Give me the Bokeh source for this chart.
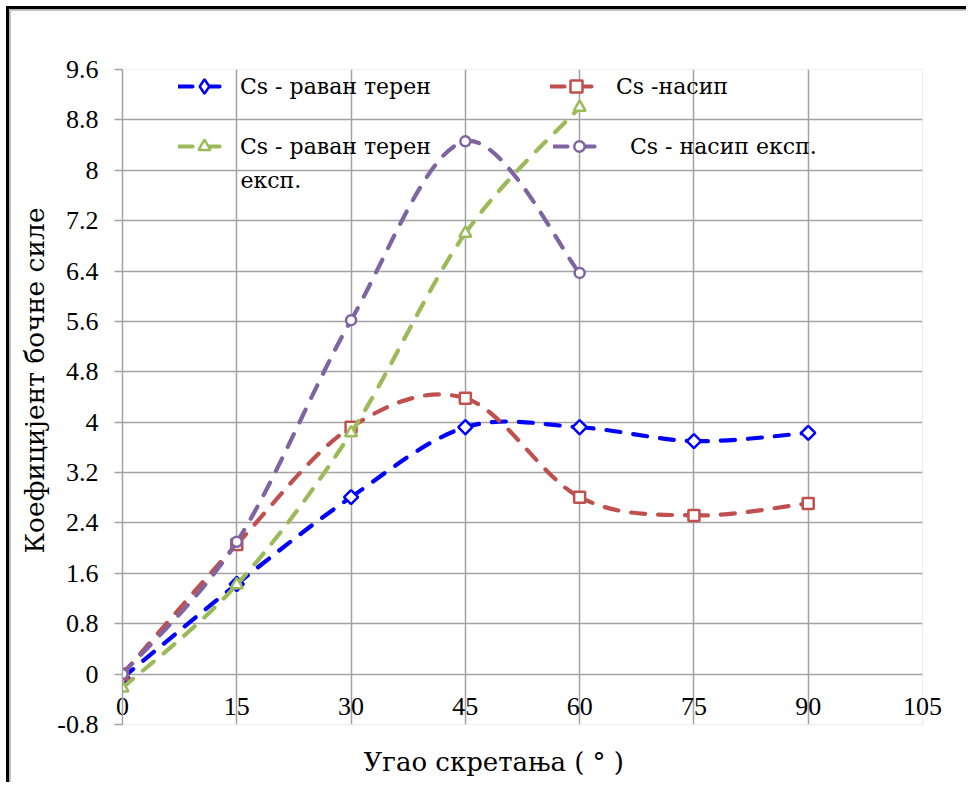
import numpy as np
from bokeh.plotting import figure
from bokeh.models import (Range1d, FixedTicker, Legend, LegendItem, Label, Title,
                          LinearAxis)
from bokeh.embed import file_html
from bokeh.resources import INLINE

# ---------------- data ----------------
angles = [0, 15, 30, 45, 60, 75, 90]
cs_flat = [-0.06, 1.43, 2.81, 3.92, 3.92, 3.70, 3.83]          # Cs - раван терен
cs_embank = [0.0, 2.06, 3.92, 4.38, 2.81, 2.52, 2.71]          # Cs -насип
angles_exp = [0, 15, 30, 45, 60]
cs_flat_exp = [-0.22, 1.42, 3.83, 7.00, 9.00]                  # Cs - раван терен експ.
cs_embank_exp = [0.0, 2.10, 5.62, 8.46, 6.37]                  # Cs - насип експ.

x_ticks = [0, 15, 30, 45, 60, 75, 90, 105]
x_tick_labels = ["0", "15", "30", "45", "60", "75", "90", "105"]
y_ticks = [-0.8, 0, 0.8, 1.6, 2.4, 3.2, 4, 4.8, 5.6, 6.4, 7.2, 8, 8.8, 9.6]
y_tick_labels = ["-0.8", "0", "0.8", "1.6", "2.4", "3.2", "4", "4.8", "5.6",
                 "6.4", "7.2", "8", "8.8", "9.6"]

x_title = "Угао скретања ( ° )"
y_title = "Коефицијент бочне силе"
names = ["Cs - раван терен", "Cs -насип", "Cs - раван терен", " Cs - насип експ."]
name3_second_line = "експ."

FONT = "Liberation Serif"
CYR = "DejaVu Serif"
GRID = "#a3a3a3"

FRAME_W, FRAME_H = 800, 655


def smooth(xs, ys):
    """Bezier control points of a smoothed (Catmull-Rom) curve through the points."""
    x = np.asarray(xs, float)
    y = np.asarray(ys, float)
    xp = np.concatenate([[x[0]], x, [x[-1]]])
    yp = np.concatenate([[y[0]], y, [y[-1]]])
    i = np.arange(len(x) - 1)
    return dict(
        x0=x[:-1], y0=y[:-1], x1=x[1:], y1=y[1:],
        cx0=xp[i + 1] + (xp[i + 2] - xp[i]) / 6.0,
        cy0=yp[i + 1] + (yp[i + 2] - yp[i]) / 6.0,
        cx1=xp[i + 2] - (xp[i + 3] - xp[i + 1]) / 6.0,
        cy1=yp[i + 2] - (yp[i + 3] - yp[i + 1]) / 6.0,
    )


p = figure(width=960, height=776, output_backend="svg", toolbar_location=None,
           x_range=Range1d(0, 105), y_range=Range1d(-0.8, 9.6),
           min_border_left=112, min_border_right=48, min_border_top=59,
           min_border_bottom=62)
# page frame: black rule with a thin grey rule inside, on the top and left
p.styles = {"margin-left": "6px", "margin-top": "6px",
            "border-left": "3px solid black", "border-top": "3px solid black",
            "padding-left": "1px", "padding-top": "1px",
            "background-color": "#b4b4b4"}
p.outline_line_color = None
p.background_fill_color = "white"
p.border_fill_color = "white"

# axes
p.xaxis.ticker = FixedTicker(ticks=x_ticks)
p.xaxis.major_label_overrides = {t: l for t, l in zip(x_ticks, x_tick_labels)}
p.xaxis.axis_line_color = None
p.xaxis.major_tick_line_color = None
p.xaxis.minor_tick_line_color = None
p.xaxis.major_label_standoff = -33
p.xaxis.major_label_text_font = FONT
p.xaxis.major_label_text_font_size = "26px"
p.xaxis.major_label_text_color = "black"

# invisible spacer axis below, only to push the axis title down a little
spacer = LinearAxis(ticker=FixedTicker(ticks=x_ticks[:1]), axis_line_color=None,
                    major_tick_line_color=None, minor_tick_line_color=None,
                    major_tick_out=15, major_tick_in=0, major_label_standoff=0,
                    major_label_overrides={x_ticks[0]: ""},
                    major_label_text_font_size="1px", major_label_text_alpha=0)
p.add_layout(spacer, "below")

p.yaxis.ticker = FixedTicker(ticks=y_ticks)
p.yaxis.major_label_overrides = {t: l for t, l in zip(y_ticks, y_tick_labels)}
p.yaxis.axis_line_color = GRID
p.yaxis.axis_line_width = 1.5
p.yaxis.major_tick_line_color = GRID
p.yaxis.major_tick_line_width = 1.5
p.yaxis.major_tick_out = 8
p.yaxis.major_tick_in = 0
p.yaxis.minor_tick_line_color = None
p.yaxis.major_label_standoff = 16
p.yaxis.major_label_text_font = FONT
p.yaxis.major_label_text_font_size = "26px"
p.yaxis.major_label_text_color = "black"

for g in (p.xgrid, p.ygrid):
    g.grid_line_color = GRID
    g.grid_line_width = 1.5

# series
styles = [
    (angles, cs_flat, "#0000ff", "square", 10, np.pi / 4, "diamond", 36),
    (angles, cs_embank, "#c0504d", "square", 11, 0.0, "square", 30),
    (angles_exp, cs_flat_exp, "#9bbb59", "triangle", 12, 0.0, "triangle", 30),
    (angles_exp, cs_embank_exp, "#8064a2", "circle", 10, 0.0, "circle", 26),
]
renderers = []
for xs, ys, col, mk, sz, ang, lmk, gh in styles:
    b = p.bezier(line_color=col, line_width=4.2, line_dash="14 13", line_cap="round",
                 **smooth(xs, ys))
    s = p.scatter(xs, ys, marker=mk, size=sz, angle=ang, fill_color="white",
                  line_color=col, line_width=2.5)
    # legend sample marker (size 0 in the plot; the legend draws its own size)
    lm = p.scatter(xs, ys, marker=lmk, size=0, fill_color="white",
                   line_color=col, line_width=2.5)
    renderers.append(([b, lm], gh))

# legends (one per entry, placed like the original two-column legend)
leg_x = [56, 428, 56, 431]          # px from frame left
leg_center = [17, 17, 77, 77]       # px below frame top (row centre)
leg_standoff = [10, 14, 10, 18]
for (rs, gh), name, lx, lc, so in zip(renderers, names, leg_x, leg_center, leg_standoff):
    top = lc - gh / 2
    lg = Legend(items=[LegendItem(label=name, renderers=rs)],
                location=(lx, FRAME_H - top - gh),
                padding=0, margin=0, spacing=0, glyph_width=52, glyph_height=gh,
                label_height=gh, label_standoff=so, border_line_color=None,
                background_fill_alpha=0, label_text_font=CYR,
                label_text_font_size="22px", label_text_color="black")
    p.add_layout(lg)

# second line of the third legend entry
p.add_layout(Label(x=118, y=FRAME_H - 111, x_units="screen", y_units="screen",
                   text=name3_second_line, text_font=CYR, text_font_size="22px",
                   text_color="black", text_baseline="middle", text_align="left"))

# axis titles
p.add_layout(Title(text=x_title, align="left", offset=241, standoff=10,
                   text_font=CYR, text_font_size="26px", text_font_style="normal",
                   text_color="black"),
             "below")
p.add_layout(Title(text=y_title, align="left", offset=171, standoff=10,
                   text_font=CYR, text_font_size="26.5px", text_font_style="normal",
                   text_color="black"),
             "left")

open("out.html", "w").write(file_html(p, INLINE))
